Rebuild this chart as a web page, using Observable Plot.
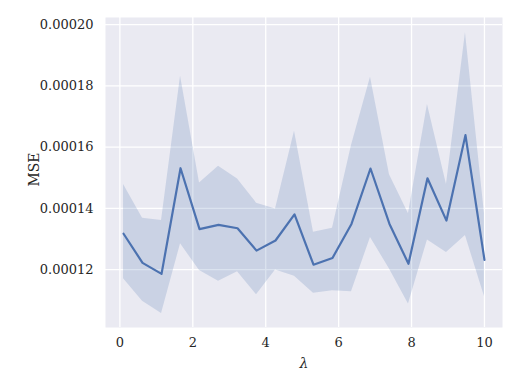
<!DOCTYPE html>
<html><head><meta charset="utf-8">
<script src="https://cdn.jsdelivr.net/npm/d3@7"></script>
<script src="https://cdn.jsdelivr.net/npm/@observablehq/plot@0.6"></script>
<style>body{margin:0;background:white}</style>
</head><body><div id="chart"></div>
<script>
const lambdas = d3.range(20).map(i => +(0.1 + i * (9.9 / 19)).toFixed(4));
const mse = [0.0001317,0.0001222,0.0001186,0.0001531,0.0001332,0.0001346,0.0001335,0.0001262,0.0001295,0.0001380,
             0.0001216,0.0001238,0.0001349,0.0001530,0.0001349,0.0001219,0.0001498,0.0001360,0.0001639,0.0001232];
const upper = [0.0001478,0.0001368,0.0001360,0.0001831,0.0001483,0.0001537,0.0001496,0.0001417,0.0001398,0.0001652,
               0.0001322,0.0001335,0.0001605,0.0001828,0.0001510,0.0001382,0.0001739,0.0001478,0.0001973,0.0001382];
const lower = [0.0001170,0.0001097,0.0001057,0.0001284,0.0001197,0.0001162,0.0001193,0.0001118,0.0001199,0.0001178,
               0.0001123,0.0001131,0.0001128,0.0001305,0.0001202,0.0001088,0.0001297,0.0001256,0.0001311,0.0001112];
const xTicks = [0, 2, 4, 6, 8, 10];
const yTicks = [0.00012, 0.00014, 0.00016, 0.00018, 0.00020];

const data = lambdas.map((x, i) => ({x, y: mse[i], lo: lower[i], hi: upper[i]}));
const blue = "#4c72b0";

const chart = Plot.plot({
  width: 520, height: 390,
  marginLeft: 105, marginRight: 18, marginTop: 17, marginBottom: 63,
  style: {fontFamily: "DejaVu Serif", fontSize: "13px", background: "white", color: "#262626"},
  x: {domain: [-0.395, 10.495]},
  y: {domain: [0.0001011, 0.0002023]},
  marks: [
    Plot.frame({fill: "#eaeaf2", stroke: null}),
    Plot.gridX(xTicks, {stroke: "white", strokeOpacity: 1, strokeWidth: 1.3}),
    Plot.gridY(yTicks, {stroke: "white", strokeOpacity: 1, strokeWidth: 1.3}),
    Plot.areaY(data, {x: "x", y1: "lo", y2: "hi", fill: blue, fillOpacity: 0.2}),
    Plot.lineY(data, {x: "x", y: "y", stroke: blue, strokeWidth: 2.2}),
    Plot.axisX({ticks: xTicks, tickSize: 0, tickPadding: 10, label: null, tickFormat: d => String(d)}),
    Plot.axisY({ticks: yTicks, tickSize: 0, tickPadding: 12, label: null, tickFormat: d => d.toFixed(5)}),
    Plot.text(["λ"], {frameAnchor: "bottom", dy: 40, fontStyle: "italic", fontSize: 14, fill: "#262626"}),
    Plot.text(["MSE"], {frameAnchor: "left", textAnchor: "middle", dx: -71, dy: -3, rotate: -90, fontSize: 14, fill: "#262626"})
  ]
});
document.getElementById("chart").appendChild(chart);
</script></body></html>
